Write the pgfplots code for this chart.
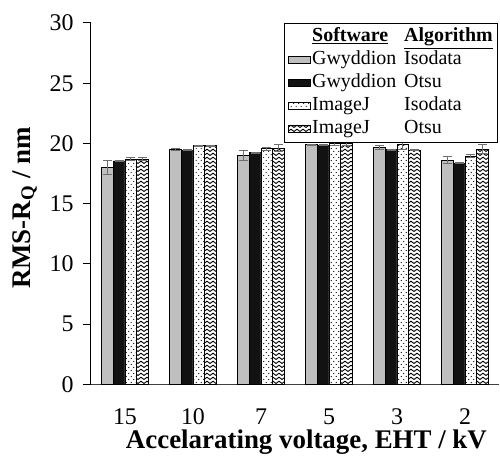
\documentclass[border=0pt]{standalone}
\usepackage{pgfplots}
\pgfplotsset{compat=1.18}
\usepackage{fontspec}
\setmainfont{Liberation Serif}
\usetikzlibrary{patterns}

\pgfdeclarepatternformonly{sparsedots}{\pgfqpoint{-1bp}{-1bp}}{\pgfqpoint{6bp}{7bp}}{\pgfqpoint{5bp}{6bp}}{%
  \pgfpathcircle{\pgfqpoint{1.2bp}{1.5bp}}{0.55bp}\pgfusepath{fill}%
  \pgfpathcircle{\pgfqpoint{3.7bp}{4.5bp}}{0.55bp}\pgfusepath{fill}%
}
\pgfdeclarepatternformonly{chevron}{\pgfqpoint{-1bp}{-1bp}}{\pgfqpoint{7bp}{5bp}}{\pgfqpoint{6bp}{4bp}}{%
  \pgfsetlinewidth{0.9bp}%
  \pgfpathmoveto{\pgfqpoint{0bp}{0.5bp}}%
  \pgfpathlineto{\pgfqpoint{3bp}{2.8bp}}%
  \pgfpathlineto{\pgfqpoint{6bp}{0.5bp}}%
  \pgfusepath{stroke}%
}

\pgfplotstableread{
x y e
0 18.00 0.55
1 19.50 0.10
2 19.00 0.45
3 19.90 0.05
4 19.65 0.15
5 18.63 0.30
}\gwi
\pgfplotstableread{
x y e
0 18.55 0.05
1 19.43 0.05
2 19.24 0.05
3 19.85 0.05
4 19.49 0.05
5 18.36 0.05
}\gwo
\pgfplotstableread{
x y e
0 18.70 0.10
1 19.80 0.05
2 19.55 0.10
3 19.97 0.10
4 19.95 0.45
5 18.96 0.15
}\iji
\pgfplotstableread{
x y e
0 18.70 0.10
1 19.80 0.05
2 19.60 0.30
3 19.97 0.10
4 19.46 0.05
5 19.54 0.35
}\ijo

\definecolor{barg}{HTML}{BFBFBF}
\definecolor{errg}{HTML}{6E6E6E}

\begin{document}
\begin{tikzpicture}
\useasboundingbox (-91bp,-71.5bp) rectangle (409bp,384.5bp);
\begin{axis}[
  at={(0,0)}, anchor=south west,
  scale only axis,
  width=408bp, height=361.5bp,
  xmin=-0.5, xmax=5.5,
  ymin=0, ymax=30,
  ytick={0,5,...,30},
  xtick={0,...,5},
  xticklabels={15,10,7,5,3,2},
  axis x line*=bottom,
  axis y line*=left,
  axis line style={line width=1bp, black},
  x axis line style={draw=black!75, -},
  y axis line style={-},
  tick align=outside,
  major tick length=8bp,
  ytick style={line width=1bp, black},
  xtick style={draw=none},
  /pgf/number format/assume math mode=true,
  ticklabel style={font=\fontsize{24}{27}\selectfont},
  xticklabel style={yshift=-13bp},
  yticklabel style={xshift=-6bp},
  xlabel={\textbf{Accelarating voltage, EHT / kV}},
  ylabel={\textbf{RMS-R\textsubscript{Q} / nm}},
  xlabel style={font=\fontsize{27}{30}\selectfont, at={(axis description cs:0.528,-0.178)}, anchor=base},
  ylabel style={font=\fontsize{27}{30}\selectfont, at={(axis description cs:-0.1495,0.488)}, anchor=base, rotate=0},
  ybar=0pt,
  bar width=0.174,
  error bars/error bar style={line width=1bp, errg, solid},
  error bars/error mark options={rotate=90, mark size=4.5bp, line width=1bp, errg},
  legend image code/.code={\draw[#1, line width=0.9bp] (0bp,-3bp) rectangle (22bp,4bp);},
  legend cell align=left,
  legend style={at={(axis description cs:0.997,1.0)}, anchor=north east,
    draw=black, line width=1bp, font=\fontsize{20}{23}\selectfont,
    inner xsep=3bp, inner ysep=2bp, row sep=0pt,
    nodes={inner sep=1.5bp, text height=15bp, text depth=5bp},
    /tikz/every even column/.append style={column sep=3bp}},
]
\addlegendimage{draw=white, fill=white}
\addlegendentry{\makebox[92bp][l]{\textbf{\underline{Software}}}\textbf{\underline{Algorithm}}}
\addplot[draw=black, line width=0.9bp, fill=barg, error bars/.cd, y dir=both, y explicit] table[x=x, y=y, y error=e] {\gwi};
\addlegendentry{\makebox[92bp][l]{Gwyddion}Isodata}
\addplot[draw=black, line width=0.9bp, fill=black!93, error bars/.cd, y dir=both, y explicit] table[x=x, y=y, y error=e] {\gwo};
\addlegendentry{\makebox[92bp][l]{Gwyddion}Otsu}
\addplot[draw=black, line width=0.9bp, fill=white, postaction={pattern=sparsedots}, error bars/.cd, y dir=both, y explicit] table[x=x, y=y, y error=e] {\iji};
\addlegendentry{\makebox[92bp][l]{ImageJ}Isodata}
\addplot[draw=black, line width=0.9bp, fill=white, postaction={pattern=chevron}, error bars/.cd, y dir=both, y explicit] table[x=x, y=y, y error=e] {\ijo};
\addlegendentry{\makebox[92bp][l]{ImageJ}Otsu}
\end{axis}
\end{tikzpicture}
\end{document}
